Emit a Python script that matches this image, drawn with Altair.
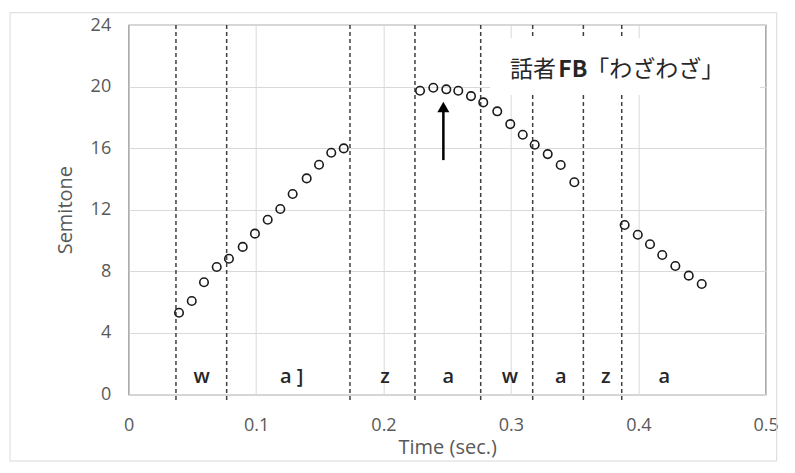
import altair as alt
import pandas as pd

# ---- data ----
t1 = [0.0395, 0.0495, 0.0591, 0.0691, 0.0787, 0.0895, 0.0991, 0.1091, 0.1190, 0.1287, 0.1397, 0.1494, 0.1590, 0.1688]
s1 = [5.30, 6.06, 7.28, 8.27, 8.81, 9.58, 10.44, 11.34, 12.04, 13.02, 14.03, 14.92, 15.70, 15.98]
t2 = [0.2287, 0.2391, 0.2493, 0.2587, 0.2687, 0.2783, 0.2893, 0.2995, 0.3093, 0.3187, 0.3289, 0.3391, 0.3498]
s2 = [19.73, 19.92, 19.82, 19.73, 19.38, 18.97, 18.39, 17.56, 16.87, 16.22, 15.61, 14.90, 13.78]
t3 = [0.3893, 0.3996, 0.4092, 0.4188, 0.4291, 0.4396, 0.4498]
s3 = [11.00, 10.37, 9.75, 9.05, 8.34, 7.71, 7.17]

boundaries = [0.0371, 0.0769, 0.1737, 0.2247, 0.2763, 0.3171, 0.3569, 0.3870]
boundary_top = [24, 24, 24, 24, 24, 24, 24, 24]
boundary_bottom = -0.37

seg_labels = ["w", "a ]", "z", "a", "w", "a", "z", "a"]
seg_x = [0.0573, 0.1279, 0.2012, 0.2508, 0.2993, 0.3391, 0.3744, 0.4204]
seg_y = 1.14

arrow_x = 0.247
arrow_y = [15.22, 18.67]

note_parts = ["話者", "FB", "「わざわざ」"]
note_x = [0.2993, 0.3372, 0.3592]
note_bold = [False, True, False]
note_y = 21.07

box_x = [0.2837, 0.4955]
box_y = [19.45, 23.15]

x_ticks = [0, 0.1, 0.2, 0.3, 0.4, 0.5]
y_ticks = [0, 4, 8, 12, 16, 20, 24]

# ---- tables ----
pts = pd.DataFrame({"t": t1 + t2 + t3, "s": s1 + s2 + s3})
rules = pd.DataFrame({"t": boundaries, "top": boundary_top, "bot": [boundary_bottom] * len(boundaries)})
segs = pd.DataFrame({"t": seg_x, "label": seg_labels, "s": [seg_y] * len(seg_x)})
arrow = pd.DataFrame({"t": [arrow_x], "y1": [arrow_y[0]], "y2": [arrow_y[1]]})
notes = pd.DataFrame({"t": note_x, "txt": note_parts, "b": note_bold, "s": [note_y] * 3})
box = pd.DataFrame({"x1": [box_x[0]], "x2": [box_x[1]], "y1": [box_y[0]], "y2": [box_y[1]]})
one = pd.DataFrame({"a": [0]})

xs = alt.Scale(domain=[0, 0.5], nice=False)
ys = alt.Scale(domain=[0, 24], nice=False)

FONT = "Open Sans"
GRAY = "#595959"

AX = alt.Axis(values=x_ticks, format="~g", title="Time (sec.)", grid=True, ticks=False,
              labelPadding=22, labelFlush=False, titleY=53.7, titleBaseline="middle", domain=False)
AY = alt.Axis(values=y_ticks, title="Semitone", grid=True, ticks=False,
              labelPadding=18, labelFlush=False, titleX=-63.3, titleBaseline="middle", domain=False)


def X(field):
    return alt.X(field, scale=xs, axis=AX, title="Time (sec.)")


def Y(field):
    return alt.Y(field, scale=ys, axis=AY, title="Semitone")


points = alt.Chart(pts).mark_point(
    shape="circle", filled=False, size=72, strokeWidth=1.6, color="#1a1a1a", opacity=1
).encode(x=X("t:Q"), y=Y("s:Q"))

dashed = alt.Chart(rules).mark_rule(
    strokeDash=[4, 3], color="#404040", strokeWidth=1.5
).encode(x=X("t:Q"), y=Y("bot:Q"), y2="top:Q")

whitebox = alt.Chart(box).mark_rect(color="white", opacity=1).encode(
    x=X("x1:Q"), x2="x2:Q", y=Y("y1:Q"), y2="y2:Q",
)

shaft = alt.Chart(arrow).mark_rule(color="black", strokeWidth=2.5).encode(
    x=X("t:Q"), y=Y("y1:Q"), y2="y2:Q",
)
head = alt.Chart(arrow).mark_point(
    shape="triangle-up", filled=True, size=144, color="black", opacity=1
).encode(x=X("t:Q"), y=Y("y2:Q"))

seg_text = alt.Chart(segs).mark_text(
    font=FONT, fontSize=20, fontWeight=600, color="#262626", baseline="middle", align="center"
).encode(x=X("t:Q"), y=Y("s:Q"), text="label:N")


def note_layer(bold):
    return alt.Chart(notes).transform_filter(
        alt.datum.b == bold
    ).mark_text(
        font="Noto Sans CJK JP", fontSize=23, color="#262626", baseline="middle",
        align="left", fontWeight="bold" if bold else "normal"
    ).encode(x=X("t:Q"), y=Y("s:Q"), text="txt:N")


frame = alt.Chart(one).mark_rect(
    fillOpacity=0, stroke="#d9d9d9", strokeWidth=1
).encode(
    x=alt.value(-118.7), x2=alt.value(648),
    y=alt.value(-12.3), y2=alt.value(436),
)

chart = alt.layer(
    dashed, whitebox, points, shaft, head, seg_text, note_layer(False), note_layer(True), frame
).properties(
    width=637, height=369.3,
    autosize=alt.AutoSizeParams(type="none"),
    padding={"left": 120.7, "top": 17, "right": 21, "bottom": 68},
    background="white",
).configure_view(
    stroke=GRAY, strokeWidth=1.2
).configure_axis(
    labelFont=FONT, labelFontSize=18, labelColor=GRAY,
    titleFont=FONT, titleFontSize=20, titleColor=GRAY, titleFontWeight="normal",
    gridColor="#d9d9d9", gridWidth=1,
)

chart.save("out.html", embed_options={"renderer": "svg", "actions": False})
